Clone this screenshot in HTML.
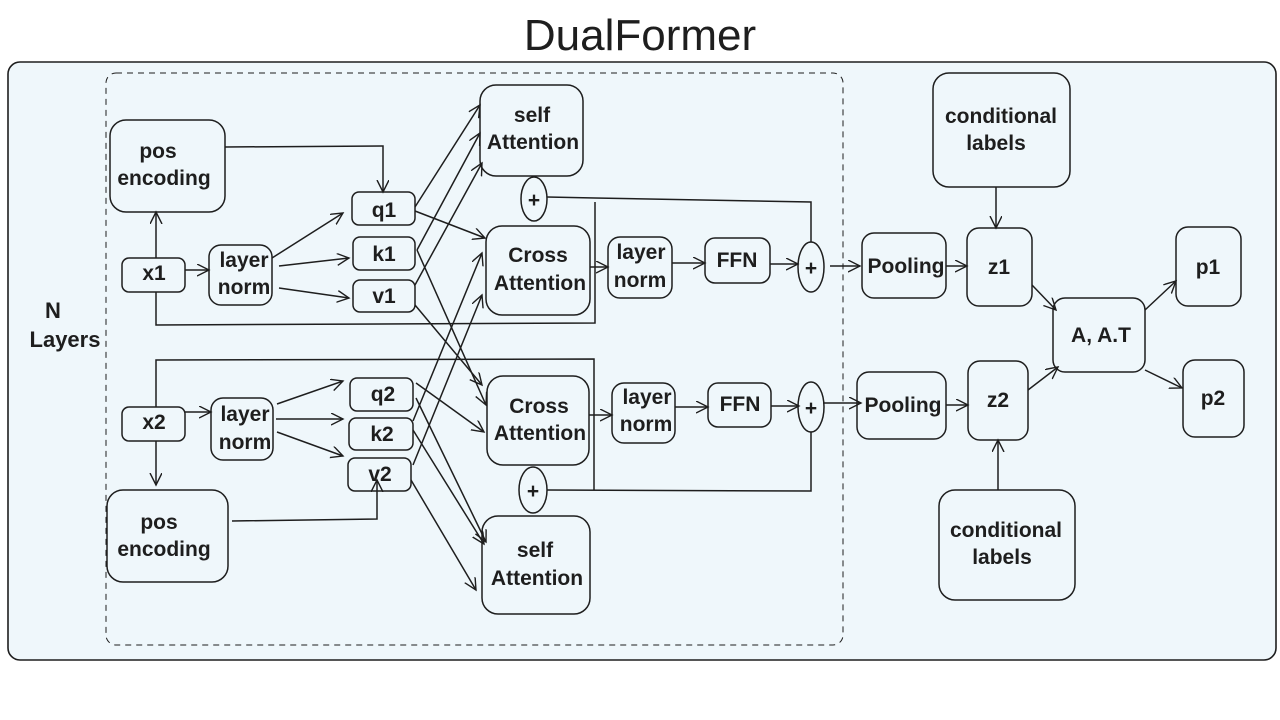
<!DOCTYPE html>
<html><head><meta charset="utf-8"><style>
html,body{margin:0;padding:0;background:#fff;}
svg{display:block;}
text{font-family:"Liberation Sans",sans-serif;font-weight:bold;font-size:21px;fill:#1e1e1e;text-anchor:middle;}
</style></head><body>
<svg width="1280" height="720" viewBox="0 0 1280 720" xmlns="http://www.w3.org/2000/svg">
<defs>
<marker id="a" markerWidth="14" markerHeight="14" refX="12" refY="6" orient="auto" markerUnits="userSpaceOnUse">
<path d="M0,0 L12,6 L0,12" fill="none" stroke="#1e1e1e" stroke-width="1.4"/>
</marker>
</defs>
<text x="640" y="50" style="font-weight:normal;font-size:44px">DualFormer</text>
<rect x="8" y="62" width="1268" height="598" rx="12" fill="#eff7fb" stroke="#1e1e1e" stroke-width="1.6"/>
<rect x="106" y="73" width="737" height="572" rx="10" fill="none" stroke="#1e1e1e" stroke-width="1" stroke-dasharray="6,5"/>
<text x="53" y="318" style="font-size:22px">N</text><text x="65" y="347" style="font-size:22px">Layers</text>

<g fill="none" stroke="#1e1e1e" stroke-width="1.5">
<rect x="110" y="120" width="115" height="92" rx="16"/>
<rect x="122" y="258" width="63" height="34" rx="7"/>
<rect x="209" y="245" width="63" height="60" rx="12"/>
<rect x="352" y="192" width="63" height="33" rx="7"/>
<rect x="353" y="237" width="62" height="33" rx="7"/>
<rect x="353" y="280" width="62" height="32" rx="7"/>
<rect x="480" y="85" width="103" height="91" rx="16"/>
<ellipse cx="534" cy="199" rx="13" ry="22"/>
<rect x="486" y="226" width="104" height="89" rx="16"/>
<rect x="608" y="237" width="64" height="61" rx="12"/>
<rect x="705" y="238" width="65" height="45" rx="10"/>
<ellipse cx="811" cy="267" rx="13" ry="25"/>
<rect x="862" y="233" width="84" height="65" rx="12"/>
<rect x="967" y="228" width="65" height="78" rx="12"/>
<rect x="933" y="73" width="137" height="114" rx="16"/>
<rect x="1053" y="298" width="92" height="74" rx="12"/>
<rect x="1176" y="227" width="65" height="79" rx="12"/>
<rect x="1183" y="360" width="61" height="77" rx="12"/>
<rect x="857" y="372" width="89" height="67" rx="12"/>
<rect x="968" y="361" width="60" height="79" rx="12"/>
<rect x="939" y="490" width="136" height="110" rx="16"/>
<rect x="122" y="407" width="63" height="34" rx="7"/>
<rect x="211" y="398" width="62" height="62" rx="12"/>
<rect x="350" y="378" width="63" height="33" rx="7"/>
<rect x="349" y="418" width="64" height="32" rx="7"/>
<rect x="348" y="458" width="63" height="33" rx="7"/>
<rect x="487" y="376" width="102" height="89" rx="16"/>
<ellipse cx="533" cy="490" rx="14" ry="23"/>
<rect x="482" y="516" width="108" height="98" rx="16"/>
<rect x="107" y="490" width="121" height="92" rx="16"/>
<rect x="612" y="383" width="63" height="60" rx="12"/>
<rect x="708" y="383" width="63" height="44" rx="10"/>
<ellipse cx="811" cy="407" rx="13" ry="25"/>

<polyline points="225,147 383,146 383,192" marker-end="url(#a)"/>
<line x1="156" y1="258" x2="156" y2="212" marker-end="url(#a)"/>
<line x1="185" y1="270" x2="209" y2="270" marker-end="url(#a)"/>
<polyline points="156,292 156,325 595,323 595,202"/>
<polyline points="547,197 595,198 811,202 811,242"/>
<line x1="272" y1="258" x2="343" y2="213" marker-end="url(#a)"/>
<line x1="279" y1="266" x2="349" y2="258" marker-end="url(#a)"/>
<line x1="279" y1="288" x2="349" y2="298" marker-end="url(#a)"/>
<line x1="415" y1="207" x2="480" y2="105" marker-end="url(#a)"/>
<line x1="415" y1="211" x2="485" y2="238" marker-end="url(#a)"/>
<line x1="417" y1="250" x2="480" y2="133" marker-end="url(#a)"/>
<line x1="417" y1="250" x2="486" y2="405" marker-end="url(#a)"/>
<line x1="415" y1="285" x2="482" y2="163" marker-end="url(#a)"/>
<line x1="415" y1="305" x2="482" y2="385" marker-end="url(#a)"/>
<line x1="590" y1="267" x2="608" y2="267" marker-end="url(#a)"/>
<line x1="672" y1="263" x2="705" y2="263" marker-end="url(#a)"/>
<line x1="770" y1="264" x2="798" y2="264" marker-end="url(#a)"/>
<line x1="830" y1="266" x2="860" y2="266" marker-end="url(#a)"/>
<line x1="946" y1="266" x2="967" y2="266" marker-end="url(#a)"/>
<line x1="996" y1="187" x2="996" y2="228" marker-end="url(#a)"/>
<line x1="1032" y1="285" x2="1056" y2="310" marker-end="url(#a)"/>
<line x1="1145" y1="310" x2="1176" y2="281" marker-end="url(#a)"/>
<line x1="1145" y1="370" x2="1182" y2="388" marker-end="url(#a)"/>
<line x1="1028" y1="390" x2="1058" y2="367" marker-end="url(#a)"/>
<line x1="946" y1="405" x2="968" y2="405" marker-end="url(#a)"/>
<line x1="823" y1="403" x2="861" y2="403" marker-end="url(#a)"/>
<line x1="998" y1="490" x2="998" y2="440" marker-end="url(#a)"/>
<line x1="771" y1="406" x2="799" y2="406" marker-end="url(#a)"/>
<line x1="675" y1="407" x2="708" y2="407" marker-end="url(#a)"/>
<line x1="589" y1="415" x2="612" y2="415" marker-end="url(#a)"/>
<polyline points="156,407 156,360 594,359 594,490"/>
<polyline points="547,490 811,491 811,432"/>
<line x1="156" y1="441" x2="156" y2="485" marker-end="url(#a)"/>
<line x1="185" y1="412" x2="211" y2="412" marker-end="url(#a)"/>
<polyline points="232,521 377,519 377,480" marker-end="url(#a)"/>
<line x1="277" y1="404" x2="343" y2="381" marker-end="url(#a)"/>
<line x1="276" y1="419" x2="343" y2="419" marker-end="url(#a)"/>
<line x1="277" y1="432" x2="343" y2="456" marker-end="url(#a)"/>
<line x1="416" y1="383" x2="484" y2="432" marker-end="url(#a)"/>
<line x1="416" y1="398" x2="486" y2="542" marker-end="url(#a)"/>
<line x1="413" y1="421" x2="482" y2="253" marker-end="url(#a)"/>
<line x1="413" y1="430" x2="484" y2="544" marker-end="url(#a)"/>
<line x1="413" y1="465" x2="482" y2="295" marker-end="url(#a)"/>
<line x1="411" y1="480" x2="476" y2="590" marker-end="url(#a)"/>
</g>

<text x="158" y="158">pos</text><text x="164" y="185">encoding</text>
<text x="154" y="280">x1</text>
<text x="244" y="267">layer</text><text x="244" y="294">norm</text>
<text x="384" y="217">q1</text><text x="384" y="261">k1</text><text x="384" y="303">v1</text>
<text x="532" y="122">self</text><text x="533" y="149">Attention</text>
<text x="534" y="207">+</text>
<text x="538" y="262">Cross</text><text x="540" y="290">Attention</text>
<text x="641" y="259">layer</text><text x="640" y="287">norm</text>
<text x="737" y="267">FFN</text>
<text x="811" y="275">+</text>
<text x="906" y="273">Pooling</text>
<text x="999" y="274">z1</text>
<text x="1001" y="123">conditional</text><text x="996" y="150">labels</text>
<text x="1101" y="342">A, A.T</text>
<text x="1208" y="274">p1</text>
<text x="1213" y="405">p2</text>
<text x="903" y="412">Pooling</text>
<text x="998" y="407">z2</text>
<text x="1006" y="537">conditional</text><text x="1002" y="564">labels</text>
<text x="154" y="429">x2</text>
<text x="245" y="421">layer</text><text x="245" y="449">norm</text>
<text x="383" y="401">q2</text><text x="382" y="441">k2</text><text x="380" y="481">v2</text>
<text x="539" y="413">Cross</text><text x="540" y="440">Attention</text>
<text x="533" y="498">+</text>
<text x="535" y="557">self</text><text x="537" y="585">Attention</text>
<text x="159" y="529">pos</text><text x="164" y="556">encoding</text>
<text x="647" y="404">layer</text><text x="646" y="431">norm</text>
<text x="740" y="411">FFN</text>
<text x="811" y="415">+</text>
</svg>
</body></html>
